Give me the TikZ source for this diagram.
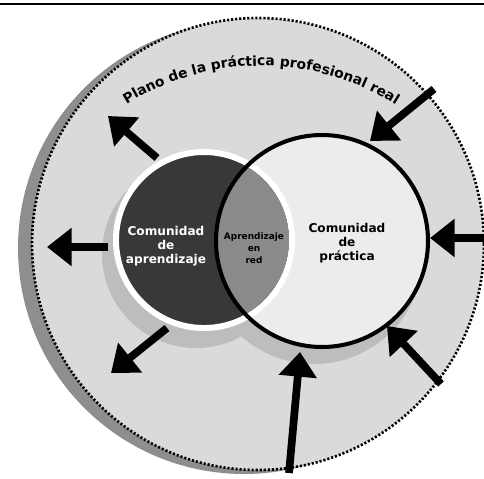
\documentclass[tikz,border=0pt]{standalone}
\usepackage{fontspec}
\setmainfont{DejaVu Sans}
\usetikzlibrary{arrows.meta,decorations.text,positioning}

\definecolor{planofondo}{HTML}{DADADA}
\definecolor{planosombra}{HTML}{8E8E8E}
\definecolor{circsombra}{HTML}{BDBDBD}
\definecolor{aprfondo}{HTML}{383838}
\definecolor{pracfondo}{HTML}{ECECEC}
\definecolor{redfondo}{HTML}{8A8A8A}

\begin{document}
\begin{tikzpicture}[
  x=0.02cm, y=0.02cm,
  flecha/.style={-{Triangle[width=21pt,length=14pt]}, line width=4.4pt, black},
  etiqueta/.style={align=center, font=\bfseries\fontsize{6.9}{7.9}\selectfont},
  etiqueta chica/.style={align=center, font=\bfseries\fontsize{5.1}{6.8}\selectfont}
]
  \useasboundingbox (0,0) rectangle (484,-478);
  \coordinate (cg) at (258,-244);
  \coordinate (ca) at (204,-240);
  \coordinate (cp) at (322,-241);
  % Top rule
  \draw[line width=0.6pt] (0,-4) -- (484,-4);
  % Outer plane
  \fill[planosombra] (244,-248) circle[radius=226];
  \fill[planofondo] (cg) circle[radius=226];
  \draw[line width=1.5pt, dash pattern=on 1.2pt off 1.1pt] (cg) circle[radius=226];
  % Shadows of the two communities
  \fill[circsombra] (196,-254) circle[radius=94];
  \fill[circsombra] (314,-255) circle[radius=109];
  % Communities
  \fill[pracfondo] (cp) circle[radius=106];
  \filldraw[fill=aprfondo, draw=white, line width=3.4pt] (ca) circle[radius=88];
  \begin{scope}
    \clip (cp) circle[radius=106];
    \fill[redfondo] (ca) circle[radius=85];
  \end{scope}
  \draw[line width=2.3pt] (cp) circle[radius=106];
  % Arrows out of the learning community
  \coordinate (s1) at (157,-158); \coordinate (t1) at (108,-116);
  \coordinate (s2) at (108,-247); \coordinate (t2) at (47,-247);
  \coordinate (s3) at (167,-328); \coordinate (t3) at (111,-373);
  \draw[flecha] (s1) -- (t1);
  \draw[flecha] (s2) -- (t2);
  \draw[flecha] (s3) -- (t3);
  % Arrows into the community of practice
  \coordinate (s4) at (434,-89);  \coordinate (t4) at (370,-141);
  \coordinate (s5) at (484,-238); \coordinate (t5) at (430,-238);
  \coordinate (s6) at (441,-384); \coordinate (t6) at (387,-326);
  \coordinate (s7) at (289,-473); \coordinate (t7) at (300,-352);
  \draw[flecha] (s4) -- (t4);
  \draw[flecha] (s5) -- (t5);
  \draw[flecha] (s6) -- (t6);
  \draw[flecha] (s7) -- (t7);
  % Labels
  \node[etiqueta, text=white] (apr) at (166,-246) {Comunidad\\de\\aprendizaje};
  \node[etiqueta chica] (red) at (254,-248) {Aprendizaje\\en\\red};
  \node[etiqueta] (prac) at (347,-243) {Comunidad\\de\\práctica};
  % Curved title
  \coordinate (tA) at (127,-104);
  \path[decorate, decoration={text along path, text align=center,
      text={|\bfseries\fontsize{7.9}{9}\selectfont|Plano de la práctica profesional real}}]
    (tA) arc[start angle=121.8, end angle=58.0, radius=254];
\end{tikzpicture}
\end{document}
